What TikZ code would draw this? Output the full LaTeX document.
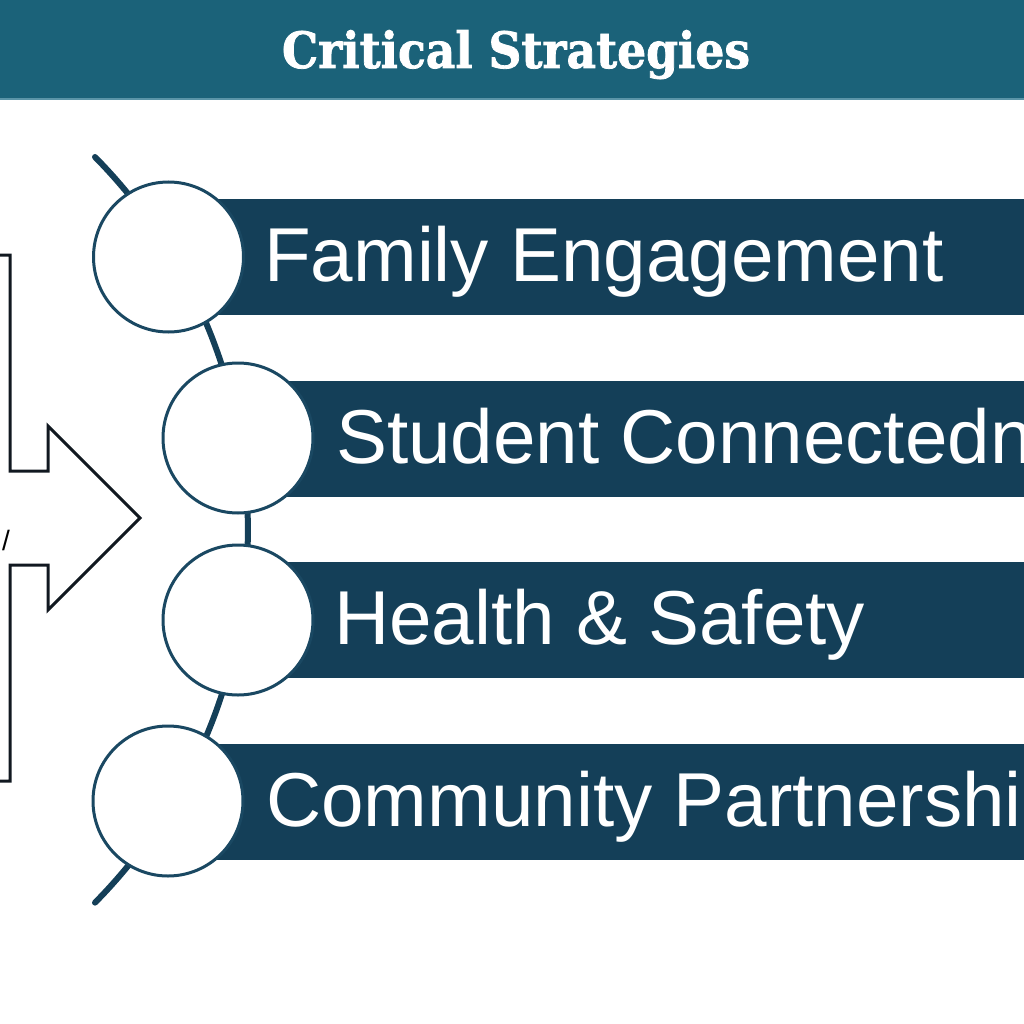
\documentclass[tikz,border=0pt]{standalone}
\usepackage{fontspec}
\setmainfont{Liberation Sans}
\newfontfamily\titlefont{DejaVu Serif}[BoldFeatures={FakeBold=1.6}]
\definecolor{titlebg}{HTML}{1B6279}
\definecolor{titleline}{HTML}{5B95A8}
\definecolor{barcol}{HTML}{143F58}
\definecolor{ringcol}{HTML}{1A4862}
\definecolor{shapeline}{HTML}{111820}
\tikzset{
  barbox/.style={fill=barcol, draw=none, minimum height=116pt, inner sep=0pt, anchor=west},
  circ/.style={circle, draw=ringcol, line width=3pt, fill=white, minimum size=150pt, inner sep=0pt},
  bartext/.style={anchor=base west, inner sep=0pt, text=white, font=\fontsize{76.4pt}{80pt}\selectfont},
  spine/.style={draw=barcol, line width=6pt},
  leftshape/.style={draw=shapeline, line width=3pt, line join=miter},
}
\begin{document}
\begin{tikzpicture}[x=1pt,y=-1pt]
\useasboundingbox (0,0) rectangle (1024,1024);
\clip (0,0) rectangle (1024,1024);
% title bar
\fill[titlebg] (0,0) rectangle (1024,98);
\fill[titleline] (0,98) rectangle (1024,100);
\node[anchor=base, inner sep=0pt, text=white] (title) at (516,68)
  {\resizebox{468pt}{38pt}{\titlefont\bfseries Critical Strategies}};
% left arrow shape
\draw[leftshape] (0,255) -- (10,255) -- (10,471) -- (48,471) -- (48,426) -- (140,518)
  -- (48,610) -- (48,565) -- (10,565) -- (10,781) -- (0,781);
\node[inner sep=0pt, font=\fontsize{28pt}{30pt}\selectfont] (slash) at (6,540) {/};
% spine arc
\coordinate (arcTop) at (95,157);
\draw[spine, line cap=round] (arcTop) arc[start angle=-44.6, end angle=44.6, radius=531];
% bars
\node[barbox, minimum width=856pt] (b1) at (168,257) {};
\node[barbox, minimum width=786pt] (b2) at (238,438.5) {};
\node[barbox, minimum width=786pt] (b3) at (238,620) {};
\node[barbox, minimum width=856pt] (b4) at (168,801.5) {};
% circles
\node[circ] (c1) at (168.5,257) {};
\node[circ] (c2) at (238,438) {};
\node[circ] (c3) at (238,620) {};
\node[circ] (c4) at (168,801) {};
% texts
\node[bartext] (t1) at (264,281) {Family Engagement};
\node[bartext] (t2) at (336,463) {Student Connectedness};
\node[bartext] (t3) at (334,644) {Health \& Safety};
\node[bartext] (t4) at (266,826) {Community Partnerships};
\end{tikzpicture}
\end{document}
